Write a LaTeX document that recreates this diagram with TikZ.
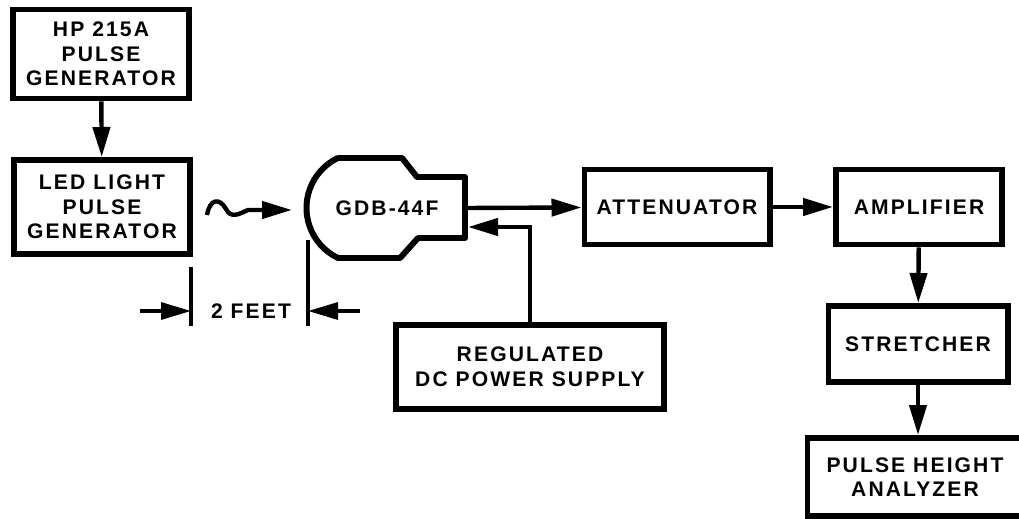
\documentclass[tikz,border=0pt]{standalone}
\usepackage{fontspec}
\setmainfont{Liberation Sans}[LetterSpace=10]
\usepackage{tikz}
\usetikzlibrary{arrows.meta, positioning}

\begin{document}
\begin{tikzpicture}[x=0.2mm, y=-0.2mm, >={Triangle[length=6mm, width=3.4mm]},
    blockbox/.style={draw, line width=3.4pt, align=center, inner sep=0pt,
        font=\fontsize{12}{14}\selectfont\bfseries},
    flowline/.style={line width=2.5pt, ->},
    dimline/.style={line width=1.8pt}]
    \useasboundingbox (0,0) rectangle (1019,519);

    % Pulse source chain
    \node[blockbox, minimum width=3.52cm, minimum height=1.78cm] (hpgen) at (101,54) {HP 215A\\PULSE\\GENERATOR};
    \node[blockbox, minimum width=3.52cm, minimum height=1.88cm] (ledgen) at (102,207) {LED LIGHT\\PULSE\\GENERATOR};
    \draw[flowline] (hpgen) -- (ledgen);

    % Light path to the tube
    \coordinate (wavestart) at (207,215);
    \coordinate (wavetip) at (292,210);
    \draw[flowline] (wavestart) .. controls (210,198) and (220,198) .. (226,209) .. controls (231,219) and (239,214) .. (248,210) -- (wavetip);

    % Photomultiplier tube envelope
    \draw[line width=3.4pt, line join=round] (338,158) -- (402,158) -- (417,177) -- (465,177) -- (465,238) -- (418,238) -- (400,258) -- (338,258) arc[start angle=115.6, end angle=244.4, radius=55.5] -- cycle;
    \node[font=\fontsize{12}{14}\selectfont\bfseries, inner sep=0pt] (tube) at (387,208) {GDB-44F};
    \coordinate (tubeout) at (465,208);
    \coordinate (tubein) at (468,227);

    % Signal chain
    \node[blockbox, minimum width=3.7cm, minimum height=1.5cm] (attenuator) at (677,207) {ATTENUATOR};
    \node[blockbox, minimum width=3.32cm, minimum height=1.5cm] (amplifier) at (919,207) {AMPLIFIER};
    \node[blockbox, minimum width=3.58cm, minimum height=1.52cm] (stretcher) at (918,344) {STRETCHER};
    \node[blockbox, minimum width=4.3cm, minimum height=1.56cm] (analyzer) at (915,477) {PULSE HEIGHT\\ANALYZER};
    \draw[flowline] (tubeout) -- (attenuator);
    \draw[flowline] (attenuator) -- (amplifier);
    \draw[flowline] (amplifier) -- (stretcher);
    \draw[flowline] (stretcher) -- (stretcher.south |- analyzer.north);

    % High voltage supply
    \node[blockbox, minimum width=5.36cm, minimum height=1.68cm] (supply) at (530,367) {REGULATED\\DC POWER SUPPLY};
    \draw[flowline] (supply.north) |- (tubein);

    % Distance marker
    \coordinate (dimleft) at (191,311);
    \coordinate (dimright) at (308,311);
    \draw[dimline] (191,267) -- (191,326);
    \draw[dimline] (308,240) -- (308,326);
    \draw[dimline, ->] (140,311) -- (dimleft);
    \draw[dimline, ->] (360,311) -- (dimright);
    \node[font=\fontsize{12}{14}\selectfont\bfseries, inner sep=0pt] (distance) at (251,311) {2 FEET};
\end{tikzpicture}
\end{document}
